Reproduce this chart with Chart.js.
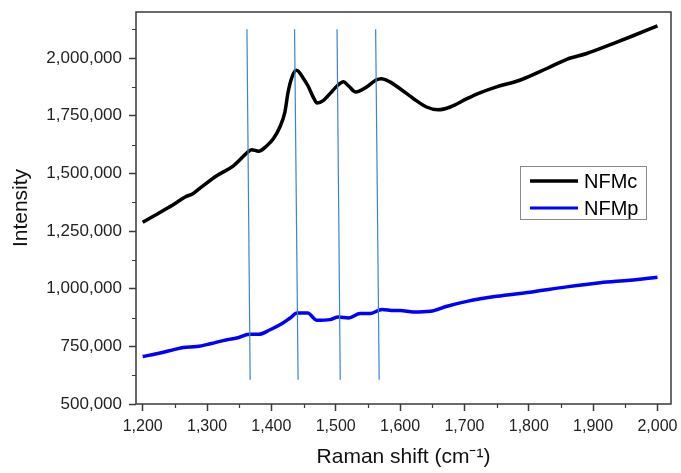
<!DOCTYPE html>
<html>
<head>
<meta charset="utf-8">
<script src="https://cdn.jsdelivr.net/npm/chart.js@4"></script>
<style>
  html, body { margin: 0; padding: 0; background: #fff; }
</style>
</head>
<body>
<canvas id="raman" width="681" height="473"></canvas>
<script>
// values
const seriesLabels = ['NFMc', 'NFMp'];

const nfmcShift = [1200, 1220, 1240, 1256, 1266, 1278, 1290, 1315, 1341, 1362, 1369, 1380, 1393, 1403, 1413,
  1421, 1426, 1432, 1439, 1450, 1457, 1465, 1471, 1481, 1491, 1502, 1512, 1520, 1531, 1548, 1562, 1571,
  1584, 1600, 1621, 1641, 1659, 1678, 1704, 1724, 1750, 1786, 1828, 1859, 1890, 1931, 1962, 2000];
const nfmcIntensity = [1288000, 1320000, 1352000, 1380000, 1398000, 1412000, 1438000, 1490000, 1533000,
  1589000, 1603000, 1596000, 1620000, 1650000, 1700000, 1766000, 1853000, 1918000, 1947000, 1911000,
  1879000, 1831000, 1805000, 1817000, 1846000, 1879000, 1897000, 1879000, 1853000, 1875000, 1904000,
  1911000, 1897000, 1867000, 1824000, 1788000, 1776000, 1788000, 1824000, 1849000, 1875000, 1904000,
  1955000, 1995000, 2020000, 2063000, 2097000, 2140000];

const nfmpShift = [1200, 1227, 1250, 1263, 1284, 1305, 1331, 1346, 1366, 1380, 1398, 1416, 1429, 1440,
  1457, 1463, 1470, 1491, 1504, 1520, 1538, 1553, 1572, 1590, 1600, 1621, 1647, 1673, 1704, 1750, 1802,
  1859, 1911, 1957, 2000];
const nfmpIntensity = [706000, 721000, 737000, 745000, 749000, 761000, 779000, 786000, 803000, 802000,
  822000, 848000, 873000, 895000, 895000, 880000, 863000, 866000, 877000, 873000, 892000, 892000, 910000,
  905000, 905000, 899000, 902000, 924000, 945000, 967000, 985000, 1008000, 1026000, 1037000, 1050000];

// thin band markers (slightly slanted in the original)
const bandTopShift = [1362, 1436, 1502, 1562];
const bandBottomShift = [1367, 1441.5, 1507, 1567.5];
const bandSpan = [2125000, 605000];

const xTicks = [1200, 1300, 1400, 1500, 1600, 1700, 1800, 1900, 2000];
const yTicks = [500000, 750000, 1000000, 1250000, 1500000, 1750000, 2000000];

const FONT = '"Liberation Sans", Arial, sans-serif';
const AXIS = '#3a3a3a';
const colors = ['#000000', '#0000ff'];

const toPts = (xs, ys) => xs.map((x, i) => ({ x: x, y: ys[i] }));

const datasets = [
  { label: seriesLabels[0], data: toPts(nfmcShift, nfmcIntensity), borderColor: colors[0], borderWidth: 3.5,
    pointRadius: 0, cubicInterpolationMode: 'monotone', order: 2 },
  { label: seriesLabels[1], data: toPts(nfmpShift, nfmpIntensity), borderColor: colors[1], borderWidth: 3.5,
    pointRadius: 0, cubicInterpolationMode: 'monotone', order: 2 }
];
bandTopShift.forEach((x, i) => {
  datasets.push({
    label: 'band' + i,
    data: [{ x: x, y: bandSpan[0] }, { x: bandBottomShift[i], y: bandSpan[1] }],
    borderColor: '#3b83d6', borderWidth: 1.2, pointRadius: 0, order: 1
  });
});

function minorTicks(majors, lo, hi) {
  const step = majors[1] - majors[0];
  const out = [];
  for (let v = majors[0] - step / 2; v <= hi; v += step) if (v >= lo) out.push(v);
  return out;
}

const decorations = {
  id: 'decorations',
  afterDraw(chart) {
    const { ctx, chartArea: a, scales: { x, y } } = chart;
    ctx.save();
    // frame
    ctx.strokeStyle = AXIS;
    ctx.lineWidth = 1.5;
    ctx.strokeRect(a.left, a.top, a.right - a.left, a.bottom - a.top);
    // minor ticks
    ctx.lineWidth = 1.2;
    ctx.beginPath();
    minorTicks(yTicks, y.min, y.max).forEach(v => {
      const py = Math.round(y.getPixelForValue(v)) + 0.5;
      ctx.moveTo(a.left - 4, py); ctx.lineTo(a.left, py);
    });
    minorTicks(xTicks, x.min, x.max).forEach(v => {
      const px = Math.round(x.getPixelForValue(v)) + 0.5;
      ctx.moveTo(px, a.bottom); ctx.lineTo(px, a.bottom + 4);
    });
    ctx.stroke();
    // legend box
    const bx = 520, by = 166, bw = 126, bh = 53;
    ctx.fillStyle = '#fff';
    ctx.fillRect(bx, by, bw, bh);
    ctx.strokeStyle = '#8a8a8a';
    ctx.lineWidth = 1;
    ctx.strokeRect(bx + 0.5, by + 0.5, bw, bh);
    ctx.font = '20px ' + FONT;
    ctx.textBaseline = 'middle';
    seriesLabels.forEach((lab, i) => {
      const ly = by + 15 + i * 27;
      ctx.strokeStyle = colors[i];
      ctx.lineWidth = i === 0 ? 3.5 : 3;
      ctx.beginPath();
      ctx.moveTo(bx + 10, ly); ctx.lineTo(bx + 58, ly);
      ctx.stroke();
      ctx.fillStyle = '#000';
      ctx.fillText(lab, bx + 64, ly + 1);
    });
    ctx.restore();
  }
};

new Chart(document.getElementById('raman'), {
  type: 'line',
  data: { datasets: datasets },
  options: {
    responsive: false,
    animation: false,
    layout: { padding: { top: 12, right: 10, left: 0, bottom: 0 } },
    plugins: { legend: { display: false }, tooltip: { enabled: false } },
    scales: {
      x: {
        type: 'linear',
        min: 1189.6,
        max: 2021,
        afterBuildTicks: s => { s.ticks = xTicks.map(v => ({ value: v })); },
        afterFit: s => { s.height = 69; s.paddingLeft = 0; s.paddingRight = 0; },
        grid: { drawOnChartArea: false, tickLength: 7, tickColor: AXIS, tickWidth: 1.5 },
        border: { display: false },
        ticks: {
          padding: 6,
          maxRotation: 0,
          autoSkip: false,
          color: '#222',
          font: { family: FONT, size: 16 },
          callback: v => v.toLocaleString('en-US')
        },
        title: {
          display: true,
          text: 'Raman shift (cm\u207B\u00B9)',
          color: '#111',
          font: { family: FONT, size: 21 },
          padding: { top: 0, bottom: 3 }
        }
      },
      y: {
        min: 500000,
        max: 2200000,
        afterBuildTicks: s => { s.ticks = yTicks.map(v => ({ value: v })); },
        afterFit: s => { s.width = 136; s.paddingTop = 0; s.paddingBottom = 0; },
        grid: { drawOnChartArea: false, tickLength: 7, tickColor: AXIS, tickWidth: 1.5 },
        border: { display: false },
        ticks: {
          padding: 7,
          autoSkip: false,
          color: '#222',
          font: { family: FONT, size: 17 },
          callback: v => v.toLocaleString('en-US')
        },
        title: {
          display: true,
          text: 'Intensity',
          color: '#111',
          font: { family: FONT, size: 21 },
          padding: { top: 9, bottom: 0 }
        }
      }
    }
  },
  plugins: [decorations]
});
</script>
</body>
</html>
